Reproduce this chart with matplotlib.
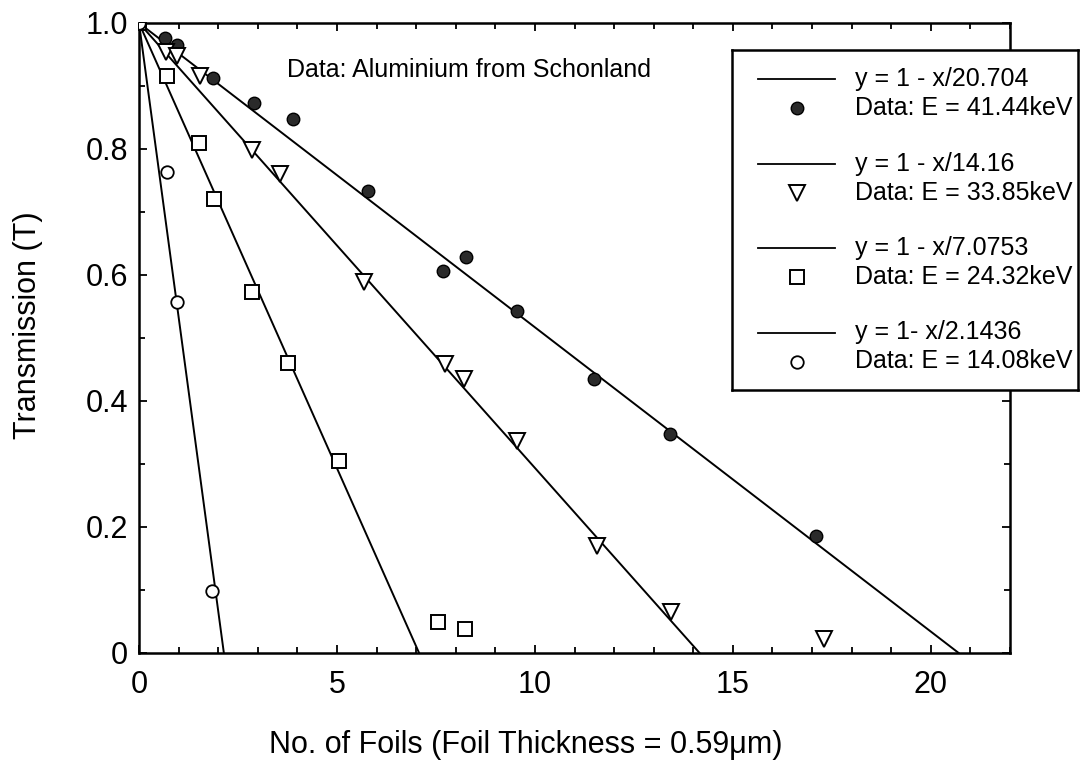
import numpy as np
import matplotlib
matplotlib.use("Agg")
import matplotlib.pyplot as plt
from matplotlib.ticker import MultipleLocator, FuncFormatter

plt.rcParams['font.family'] = ['Liberation Sans', 'DejaVu Sans']

# Fitted absorption lengths (in foils) for each beam energy
fit_len = [20.704, 14.16, 7.0753, 2.1436]
fit_labels = ["y = 1 - x/20.704", "y = 1 - x/14.16", "y = 1 - x/7.0753", "y = 1- x/2.1436"]
data_labels = ["Data: E = 41.44keV", "Data: E = 33.85keV",
               "Data: E = 24.32keV", "Data: E = 14.08keV"]

# Measured transmission, Schonland aluminium data
x_41 = [0, 0.66, 0.96, 1.88, 2.9, 3.88, 5.78, 7.68, 8.26, 9.55, 11.5, 13.4, 17.1]
t_41 = [1.0, 0.976, 0.965, 0.913, 0.873, 0.847, 0.733, 0.607, 0.629, 0.543, 0.435, 0.347, 0.185]

x_33 = [0, 0.68, 0.96, 1.54, 2.85, 3.56, 5.68, 7.73, 8.2, 9.55, 11.57, 13.43, 17.29]
t_33 = [1.0, 0.954, 0.947, 0.916, 0.798, 0.761, 0.589, 0.459, 0.435, 0.336, 0.17, 0.065, 0.022]

x_24 = [0, 0.71, 1.52, 1.89, 2.85, 3.76, 5.05, 7.55, 8.23]
t_24 = [1.0, 0.916, 0.809, 0.721, 0.573, 0.46, 0.304, 0.05, 0.038]

x_14 = [0, 0.71, 0.96, 1.84]
t_14 = [1.0, 0.764, 0.557, 0.099]

series = [(x_41, t_41), (x_33, t_33), (x_24, t_24), (x_14, t_14)]
styles = [
    dict(marker='o', ms=9, mfc='#2a2a2a', mec='black', mew=1.0),
    dict(marker='v', ms=11, mfc='white', mec='black', mew=1.4),
    dict(marker='s', ms=10, mfc='white', mec='black', mew=1.4),
    dict(marker='o', ms=9, mfc='white', mec='black', mew=1.3),
]

W, H = 1083, 770
fig = plt.figure(figsize=(W / 100, H / 100), dpi=100)
ax = fig.add_axes([139 / W, 117 / H, (1010 - 139) / W, (653 - 23) / H])

for L in fit_len:
    xx = np.array([0, L])
    ax.plot(xx, 1 - xx / L, color='black', lw=1.4, zorder=2)

for (xs, ts), st in zip(series, styles):
    ax.plot(xs, ts, ls='none', zorder=3, **st)

ax.set_xlim(0, 22)
ax.set_ylim(0, 1.0)
ax.xaxis.set_major_locator(MultipleLocator(5))
ax.xaxis.set_minor_locator(MultipleLocator(1))
ax.yaxis.set_major_locator(MultipleLocator(0.2))
ax.yaxis.set_minor_locator(MultipleLocator(0.1))
ax.yaxis.set_major_formatter(FuncFormatter(lambda v, p: "0" if abs(v) < 1e-9 else f"{v:.1f}"))
ax.tick_params(which='both', direction='in', top=True, right=True, width=1.3)
ax.tick_params(which='major', length=6, labelsize=22)
ax.tick_params(which='minor', length=4)
ax.tick_params(axis='x', pad=12)
ax.tick_params(axis='y', pad=8)
for s in ax.spines.values():
    s.set_linewidth(1.8)

ax.set_xlabel("No. of Foils (Foil Thickness = 0.59\u03bcm)", fontsize=22)
ax.set_ylabel("Transmission (T)", fontsize=22)
ax.xaxis.set_label_coords(0.444, -0.122)
ax.yaxis.set_label_coords(-0.110, 0.52)

ax.text(3.75, 0.925, "Data: Aluminium from Schonland", fontsize=18, va='center', ha='left')

# Legend box drawn in its own pixel-scaled axes
bx0, by0, bx1, by1 = 732, 50, 1078, 390
lax = fig.add_axes([bx0 / W, (H - by1) / H, (bx1 - bx0) / W, (by1 - by0) / H], zorder=5)
lax.set_xlim(0, bx1 - bx0)
lax.set_ylim(by1 - by0, 0)
lax.set_xticks([])
lax.set_yticks([])
for s in lax.spines.values():
    s.set_linewidth(1.8)

for i, st in enumerate(styles):
    yl = 29 + i * 84.5
    ym = yl + 29
    lax.plot([26, 103], [yl, yl], color='black', lw=1.3)
    lax.plot([65], [ym], ls='none', **st)
    lax.text(123, yl, fit_labels[i], fontsize=18, va='center', ha='left')
    lax.text(123, ym, data_labels[i], fontsize=18, va='center', ha='left')

fig.savefig("out.png", dpi=100)
